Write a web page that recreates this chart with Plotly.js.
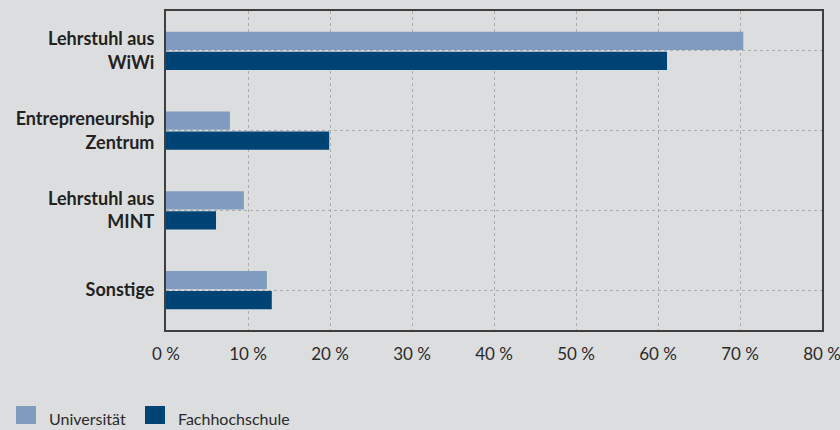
<!DOCTYPE html>
<html>
<head>
<meta charset="utf-8">
<script src="https://cdn.plot.ly/plotly-3.0.1.min.js"></script>
<style>
html,body{margin:0;padding:0;background:#dcdddf;}
#chart{width:840px;height:430px;}
</style>
</head>
<body>
<div id="chart"></div>
<script>
var categories = ["Lehrstuhl aus<br>WiWi", "Entrepreneurship<br>Zentrum", "Lehrstuhl aus<br>MINT", "Sonstige"];
var seriesNames = ["Universität", "Fachhochschule"];
var universitaet = [70.4, 7.8, 9.5, 12.3];
var fachhochschule = [61.1, 19.9, 6.1, 12.9];
var xTicks = [0, 10, 20, 30, 40, 50, 60, 70, 80];
var xTickLabels = ["0 %", "10 %", "20 %", "30 %", "40 %", "50 %", "60 %", "70 %", "80 %"];
var colors = ["#7f9cc0", "#004476"];

var traces = [
  {type: "bar", orientation: "h", name: seriesNames[0], y: categories, x: universitaet,
   marker: {color: colors[0]}, hoverinfo: "x+name"},
  {type: "bar", orientation: "h", name: seriesNames[1], y: categories, x: fachhochschule,
   marker: {color: colors[1]}, hoverinfo: "x+name"}
];

// plot area geometry (pixels) used to place the custom legend keys
var W = 840, H = 430, mL = 166, mR = 18, mT = 11, mB = 100;
var pw = W - mL - mR, ph = H - mT - mB;
function px(x) { return (x - mL) / pw; }
function py(y) { return (H - mB - y) / ph; }

var legendX = [16, 145];
var shapes = [], annotations = [];
for (var i = 0; i < seriesNames.length; i++) {
  shapes.push({type: "rect", xref: "paper", yref: "paper",
    x0: px(legendX[i]), x1: px(legendX[i] + 20), y0: py(424), y1: py(406),
    fillcolor: colors[i], line: {width: 0}});
  annotations.push({xref: "paper", yref: "paper", x: px(legendX[i] + 31), y: py(418),
    xanchor: "left", yanchor: "middle", showarrow: false, text: seriesNames[i],
    font: {size: 16, color: "#2a2a2a", family: "Lato, 'Open Sans', sans-serif"}});
}

var layout = {
  width: W, height: H,
  paper_bgcolor: "#dcdddf", plot_bgcolor: "#dcdddf",
  margin: {l: mL, r: mR, t: mT, b: mB},
  barmode: "group", bargap: 0.5, bargroupgap: 0.08,
  font: {family: "Lato, 'Open Sans', sans-serif", color: "#2a2a2a"},
  xaxis: {
    range: [0, 80], tickvals: xTicks, ticktext: xTickLabels,
    showgrid: true, gridcolor: "#acacac", griddash: "dot", gridwidth: 1,
    showline: true, mirror: true, linecolor: "#3e3e3e", linewidth: 2,
    zeroline: false, ticks: "", ticklabelstandoff: 8, ticklabeloverflow: "allow",
    tickfont: {size: 17, color: "#2a2a2a"}, fixedrange: true
  },
  yaxis: {
    type: "category", autorange: "reversed",
    showgrid: true, gridcolor: "#acacac", griddash: "dot", gridwidth: 1,
    showline: true, mirror: true, linecolor: "#3e3e3e", linewidth: 2,
    zeroline: false, ticks: "", ticklabelstandoff: 6,
    tickfont: {size: 18, color: "#222222", weight: "bold"}, fixedrange: true
  },
  showlegend: false,
  shapes: shapes,
  annotations: annotations
};

Plotly.newPlot("chart", traces, layout, {displayModeBar: false, staticPlot: true});
</script>
</body>
</html>
